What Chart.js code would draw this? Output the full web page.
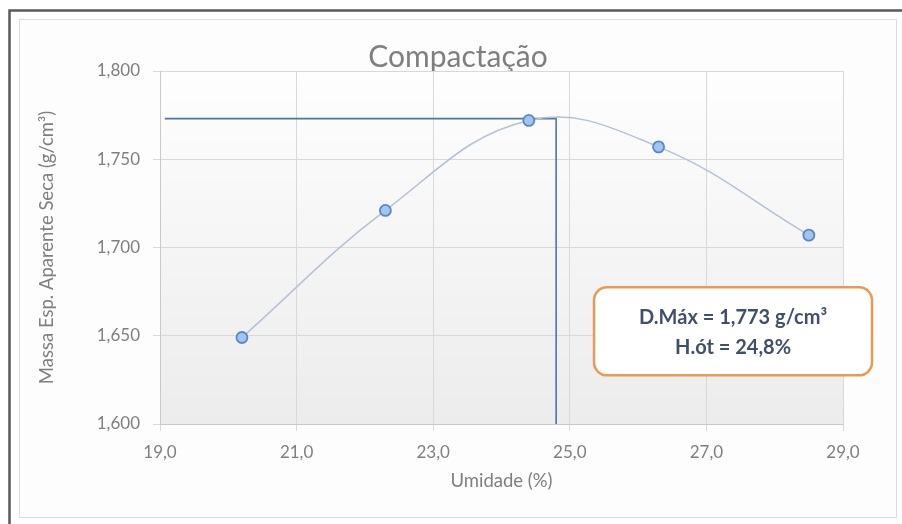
<!DOCTYPE html>
<html lang="pt-BR">
<head>
<meta charset="utf-8">
<title>Compactação</title>
<script src="https://cdn.jsdelivr.net/npm/chart.js@4/dist/chart.umd.min.js"></script>
<style>
  html, body { margin: 0; padding: 0; background: #ffffff; }
  #wrap { position: relative; width: 902px; height: 524px; }
  canvas { display: block; }
</style>
</head>
<body>
<div id="wrap"><canvas id="chart" width="902" height="524"></canvas></div>
<script>
// Ensaio de compactação: umidade (%) x massa específica aparente seca (g/cm³)
const umidade = [20.2, 22.3, 24.4, 26.3, 28.5];
const massaSeca = [1.649, 1.721, 1.772, 1.757, 1.707];

// Resultado do ensaio
const densidadeMaxima = 1.773;   // g/cm³
const umidadeOtima = 24.8;       // %

// Linha de leitura do ponto ótimo (início em x, depois desce até o eixo)
const leituraX = [19.07, umidadeOtima, umidadeOtima];
const leituraY = [densidadeMaxima, densidadeMaxima, 1.600];

// Eixos
const xTicks = [19, 21, 23, 25, 27, 29];
const yTicks = [1.600, 1.650, 1.700, 1.750, 1.800];

const tituloGrafico = 'Compactação';
const tituloX = 'Umidade (%)';
const tituloY = 'Massa Esp. Aparente Seca (g/cm³)';

const virgula = (v, casas) => v.toFixed(casas).replace('.', ',');
const caixaLinhas = [
  'D.Máx = ' + virgula(densidadeMaxima, 3) + ' g/cm³',
  'H.ót = ' + virgula(umidadeOtima, 1) + '%'
];

const FONTE = 'Lato, "Open Sans", sans-serif';
const CINZA_TEXTO = '#7f7f7f';
const CINZA_GRADE = '#d9d9d9';

// Moldura, fundo da área de plotagem e título
const molduraPlugin = {
  id: 'moldura',
  beforeDraw(chart) {
    const { ctx, chartArea: a } = chart;
    ctx.save();
    ctx.fillStyle = '#ffffff';
    ctx.fillRect(0, 0, chart.width, chart.height);
    // moldura interna clara
    ctx.fillStyle = '#fdfdfd';
    ctx.fillRect(19, 19, 878, 499);
    ctx.strokeStyle = '#dcdcdc';
    ctx.lineWidth = 1;
    ctx.strokeRect(19.5, 19.5, 877, 498);
    // moldura externa escura (esquerda e topo)
    ctx.strokeStyle = '#5a5a5a';
    ctx.lineWidth = 2.5;
    ctx.beginPath();
    ctx.moveTo(9.5, chart.height);
    ctx.lineTo(9.5, 10.5);
    ctx.lineTo(chart.width, 10.5);
    ctx.stroke();
    // fundo em degradê da área de plotagem
    const g = ctx.createLinearGradient(0, a.top, 0, a.bottom);
    g.addColorStop(0, '#fefefe');
    g.addColorStop(1, '#ececec');
    ctx.fillStyle = g;
    ctx.fillRect(a.left, a.top, a.right - a.left, a.bottom - a.top);
    // título
    ctx.fillStyle = CINZA_TEXTO;
    ctx.font = '30px ' + FONTE;
    ctx.textAlign = 'center';
    ctx.textBaseline = 'middle';
    ctx.fillText(tituloGrafico, 458, 57);
    ctx.restore();
  }
};

// Caixa com o resultado (ancorada em coordenadas de dados)
const caixaPlugin = {
  id: 'caixaResultado',
  afterDatasetsDraw(chart, args, opts) {
    const { ctx, scales: { x, y } } = chart;
    const cx = x.getPixelForValue(opts.x);
    const cy = y.getPixelForValue(opts.y);
    const w = opts.width, h = opts.height, r = opts.radius;
    const left = cx - w / 2, top = cy - h / 2;
    ctx.save();
    ctx.beginPath();
    ctx.roundRect(left, top, w, h, r);
    ctx.fillStyle = '#ffffff';
    ctx.fill();
    ctx.lineWidth = 2.5;
    ctx.strokeStyle = '#e89a55';
    ctx.stroke();
    ctx.fillStyle = '#41506a';
    ctx.font = 'bold 20px ' + FONTE;
    ctx.textAlign = 'center';
    ctx.textBaseline = 'middle';
    ctx.fillText(caixaLinhas[0], cx, cy - 14);
    ctx.fillText(caixaLinhas[1], cx, cy + 16);
    ctx.restore();
  }
};

new Chart(document.getElementById('chart'), {
  type: 'scatter',
  data: {
    datasets: [
      {
        label: 'Curva de compactação',
        data: umidade.map((u, i) => ({ x: u, y: massaSeca[i] })),
        showLine: true,
        tension: 0.4,
        borderColor: '#b3c2d4',
        borderWidth: 1.5,
        pointRadius: 5.5,
        pointHoverRadius: 5.5,
        pointBackgroundColor: '#a2c4f1',
        pointBorderColor: '#5a86c4',
        pointBorderWidth: 1.8,
        order: 1
      },
      {
        label: 'Ponto ótimo',
        data: leituraX.map((u, i) => ({ x: u, y: leituraY[i] })),
        showLine: true,
        tension: 0,
        borderColor: '#4d75a8',
        borderWidth: 1.6,
        pointRadius: 0,
        order: 2
      }
    ]
  },
  options: {
    responsive: false,
    animation: false,
    devicePixelRatio: 1,
    layout: { padding: { left: 28, right: 59, top: 71, bottom: 32 } },
    plugins: {
      legend: { display: false },
      tooltip: { enabled: false },
      title: { display: false },
      caixaResultado: { x: 27.39, y: 1.6525, width: 278, height: 88, radius: 13 }
    },
    scales: {
      x: {
        type: 'linear',
        min: xTicks[0],
        max: xTicks[xTicks.length - 1],
        afterBuildTicks: s => { s.ticks = xTicks.map(v => ({ value: v })); },
        afterFit: s => { s.height = 68; },
        ticks: {
          color: CINZA_TEXTO,
          font: { family: FONTE, size: 17 },
          padding: 11,
          callback: v => virgula(v, 1)
        },
        grid: { color: CINZA_GRADE, lineWidth: 1, tickLength: 7 },
        border: { color: '#c9c9c9' },
        title: {
          display: true,
          text: tituloX,
          color: CINZA_TEXTO,
          font: { family: FONTE, size: 18.5 },
          padding: { top: 0, bottom: 0 }
        }
      },
      y: {
        type: 'linear',
        min: yTicks[0],
        max: yTicks[yTicks.length - 1],
        afterBuildTicks: s => { s.ticks = yTicks.map(v => ({ value: v })); },
        afterFit: s => { s.width = 132; },
        ticks: {
          color: CINZA_TEXTO,
          font: { family: FONTE, size: 17 },
          padding: 13,
          callback: v => virgula(v, 3)
        },
        grid: { color: CINZA_GRADE, lineWidth: 1, tickLength: 7 },
        border: { color: '#c9c9c9' },
        title: {
          display: true,
          text: tituloY,
          color: CINZA_TEXTO,
          font: { family: FONTE, size: 18.5 },
          padding: { top: 8, bottom: 0 }
        }
      }
    }
  },
  plugins: [molduraPlugin, caixaPlugin]
});
</script>
</body>
</html>
